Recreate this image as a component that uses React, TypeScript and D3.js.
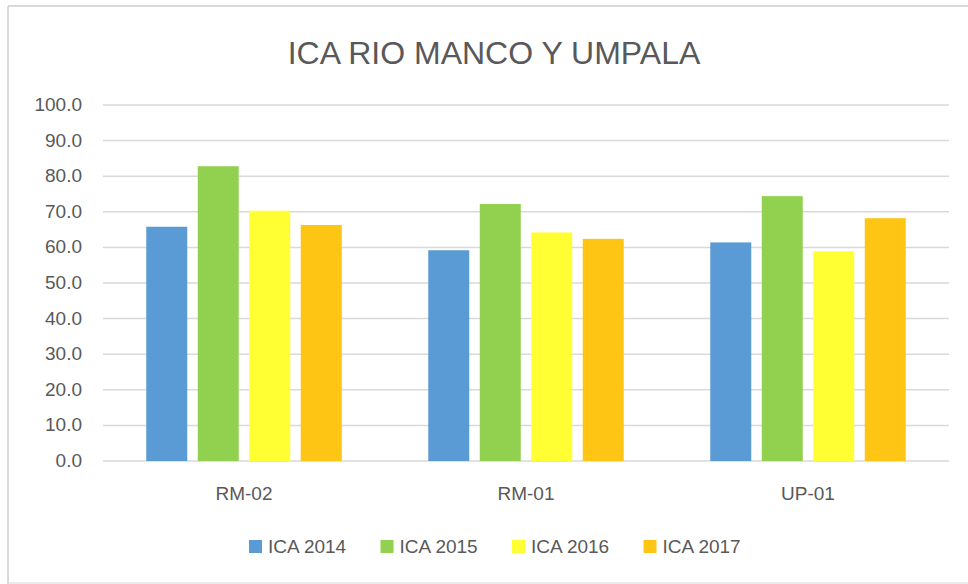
import React from "react";
import * as d3 from "d3";

const categories = ["RM-02", "RM-01", "UP-01"];
const seriesNames = ["ICA 2014", "ICA 2015", "ICA 2016", "ICA 2017"];
const ica2014 = [65.8, 59.2, 61.4];
const ica2015 = [82.8, 72.2, 74.4];
const ica2016 = [70.3, 64.2, 58.9];
const ica2017 = [66.3, 62.4, 68.2];
const yTicks = [0, 10, 20, 30, 40, 50, 60, 70, 80, 90, 100];
const colors = ["#5B9BD5", "#92D050", "#FFFF33", "#FFC515"];
const title = "ICA RIO MANCO Y UMPALA";

const W = 968;
const H = 584;
const FONT = "'Liberation Sans Narrow', 'Liberation Sans', Arial, sans-serif";

export default function App() {
  const values = [ica2014, ica2015, ica2016, ica2017];
  const x0 = d3.scaleBand<string>().domain(categories).range([103, 949]).paddingInner(0).paddingOuter(0);
  const x1 = d3
    .scaleBand<string>()
    .domain(seriesNames)
    .range([0, x0.bandwidth()])
    .paddingInner(0.204)
    .paddingOuter(0.84);
  const y = d3.scaleLinear().domain([0, 100]).range([461, 105]);
  const legendX = d3.scaleBand<string>().domain(seriesNames).range([249, 775]);

  return (
    <svg
      width={W}
      height={H}
      style={{ position: "absolute", left: 0, top: 0, background: "#fff" }}
      fontFamily={FONT}
    >
      <rect x={0} y={0} width={W} height={H} fill="#fff" />
      <line x1={8} y1={6} x2={W} y2={6} stroke="#d9d9d9" strokeWidth={2} />
      <line x1={8} y1={6} x2={8} y2={H} stroke="#d9d9d9" strokeWidth={2} />
      <line x1={8} y1={583} x2={W} y2={583} stroke="#d9d9d9" strokeWidth={1} />

      <text x={494} y={64} textAnchor="middle" fontSize={32} fill="#595959">
        {title}
      </text>

      {yTicks.map((t) => (
        <g key={t}>
          <line x1={103} x2={949} y1={y(t)} y2={y(t)} stroke="#d9d9d9" strokeWidth={1.5} />
          <text x={82} y={y(t) + 6} textAnchor="end" fontSize={19} fill="#595959">
            {t.toFixed(1)}
          </text>
        </g>
      ))}

      {categories.map((c, ci) => (
        <g key={c} transform={`translate(${x0(c)},0)`}>
          {seriesNames.map((s, si) => (
            <rect
              key={s}
              x={x1(s)}
              y={y(values[si][ci])}
              width={x1.bandwidth()}
              height={y(0) - y(values[si][ci])}
              fill={colors[si]}
            />
          ))}
          <text
            x={x0.bandwidth() / 2}
            y={500}
            textAnchor="middle"
            fontSize={19}
            fill="#595959"
          >
            {c}
          </text>
        </g>
      ))}

      {seriesNames.map((s, si) => (
        <g key={s} transform={`translate(${legendX(s)},0)`}>
          <rect x={0} y={540} width={13} height={13} fill={colors[si]} />
          <text x={19} y={553} fontSize={19} fill="#595959">
            {s}
          </text>
        </g>
      ))}
    </svg>
  );
}
